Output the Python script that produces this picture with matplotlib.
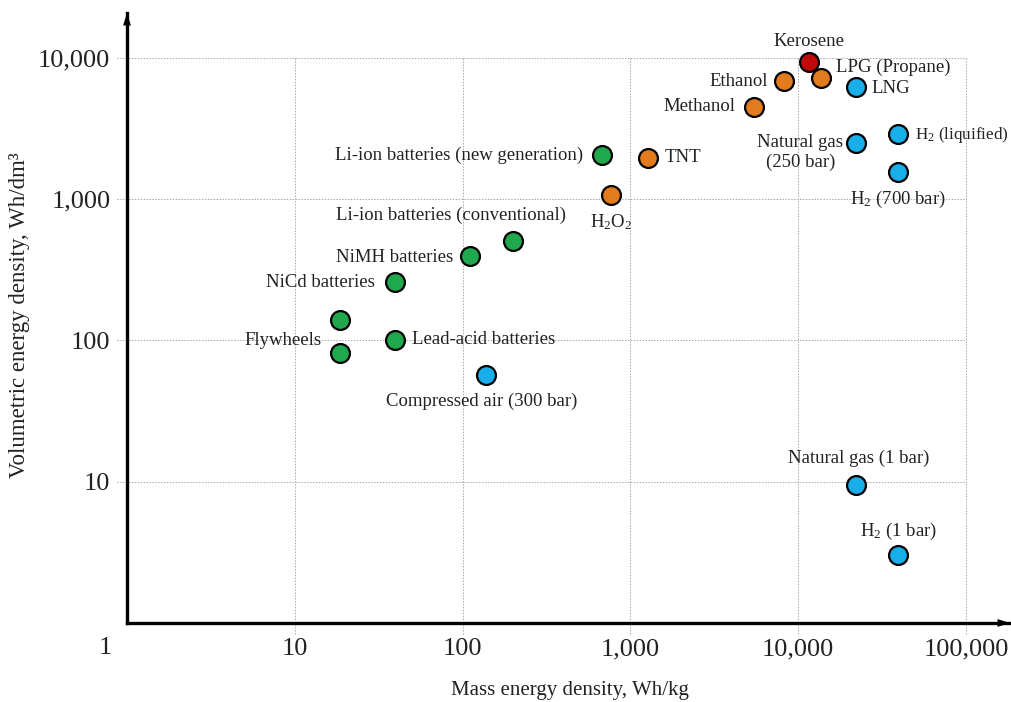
import matplotlib
matplotlib.use("Agg")
import matplotlib.pyplot as plt

plt.rcParams['font.family'] = ['Liberation Serif', 'DejaVu Serif']
plt.rcParams['mathtext.fontset'] = 'custom'
plt.rcParams['mathtext.rm'] = 'Liberation Serif'
plt.rcParams['mathtext.it'] = 'Liberation Serif:italic'

# ---- data ----
names = ["Kerosene", "LPG (Propane)", "Ethanol", "LNG", "Methanol",
         "H$_2$ (liquified)", "Natural gas\n(250 bar)", "H$_2$ (700 bar)",
         "Li-ion batteries (new generation)", "TNT", "H$_2$O$_2$",
         "Li-ion batteries (conventional)", "NiMH batteries", "NiCd batteries",
         "Flywheels", "Flywheels", "Lead-acid batteries",
         "Compressed air (300 bar)", "Natural gas (1 bar)", "H$_2$ (1 bar)"]
mass_density = [11600, 13700, 8200, 22100, 5440,
                39400, 22100, 39400,
                680, 1270, 770,
                200, 111, 39.5,
                18.5, 18.5, 39.5,
                138, 22100, 39400]
vol_density = [9340, 7200, 6850, 6210, 4490,
               2890, 2490, 1555,
               2050, 1955, 1070,
               505, 395, 259,
               139, 81.5, 100.7,
               57, 9.5, 3.03]
category = ["kerosene", "chemical", "chemical", "gas", "chemical",
            "gas", "gas", "gas",
            "battery", "chemical", "chemical",
            "battery", "battery", "battery",
            "battery", "battery", "battery",
            "gas", "gas", "gas"]
x_ticks = [10, 100, 1000, 10000, 100000]
x_tick_labels = ["10", "100", "1,000", "10,000", "100,000"]
y_ticks = [10, 100, 1000, 10000]
y_tick_labels = ["10", "100", "1,000", "10,000"]

colors = {"battery": "#1fa84d", "chemical": "#e27a1e",
          "gas": "#17aee9", "kerosene": "#c00a0a"}

# label layout: (dx, dy) offset in points, ha, va, fontsize ; None = no label
label_layout = [
    ((0, 15), "center", "center", 13.5),
    ((10.8, 7.9), "left", "center", 13.5),
    ((-11.5, 0), "right", "center", 13.5),
    ((10.8, -0.7), "left", "center", 13.5),
    ((-13, 0), "right", "center", 13.5),
    ((12.5, -0.7), "left", "center", 12.3),
    ((-40, -7), "center", "center", 13.5),
    ((0, -20), "center", "center", 13.5),
    ((-13.7, 0), "right", "center", 13.5),
    ((12.2, 0), "left", "center", 13.5),
    ((0, -19.4), "center", "center", 13.5),
    ((-44.6, 18.7), "center", "center", 13.5),
    ((-12.2, -0.7), "right", "center", 13.5),
    ((-14.4, 0), "right", "center", 13.5),
    ((-13, -14.4), "right", "center", 13.5),
    None,
    ((12.2, 0), "left", "center", 13.5),
    ((-2.9, -19.4), "center", "center", 13.5),
    ((2.2, 19.4), "center", "center", 13.5),
    ((0, 16.6), "center", "center", 13.5),
]

fig = plt.figure(figsize=(10.12, 7.02), dpi=100)
ax = fig.add_axes([127 / 1012, (702 - 623) / 702, (1010 - 127) / 1012, (623 - 13) / 702])
ax.set_xscale("log")
ax.set_yscale("log")
ax.set_xlim(1, 10 ** ((1010 - 127.25) / 167.75))
ax.set_ylim(1, 10 ** ((623 - 13) / 141.3))

# grid lines (dotted, extending slightly beyond the axes)
gx0 = 10 ** ((117 - 127.25) / 167.75)
gy0 = 10 ** ((623 - 634) / 141.3)
for yv in y_ticks:
    ax.plot([gx0, x_ticks[-1]], [yv, yv], color="#a8a8a8", lw=0.7,
            ls=(0, (1.5, 1.5)), clip_on=False, zorder=1)
for xv in x_ticks:
    ax.plot([xv, xv], [gy0, y_ticks[-1]], color="#a8a8a8", lw=0.7,
            ls=(0, (1.5, 1.5)), clip_on=False, zorder=1)

for s in ["top", "right"]:
    ax.spines[s].set_visible(False)
for s in ["left", "bottom"]:
    ax.spines[s].set_linewidth(2.4)
    ax.spines[s].set_zorder(5)
arrow_kw = dict(arrowstyle="-|>,head_length=0.9,head_width=0.28", color="k", lw=0,
                shrinkA=0, shrinkB=0)
ax.annotate("", xy=(1.0, 0), xytext=(0.97, 0), xycoords="axes fraction",
            arrowprops=arrow_kw, annotation_clip=False, zorder=6)
ax.annotate("", xy=(0, 1.0), xytext=(0, 0.97), xycoords="axes fraction",
            arrowprops=arrow_kw, annotation_clip=False, zorder=6)

ax.set_xticks(x_ticks)
ax.set_xticklabels(x_tick_labels)
ax.set_yticks(y_ticks)
ax.set_yticklabels(y_tick_labels)
ax.minorticks_off()
ax.tick_params(axis="x", length=0, pad=11, labelsize=19, labelcolor="#222222")
ax.tick_params(axis="y", length=0, pad=12, labelsize=19, labelcolor="#222222")
ax.annotate("1", xy=(1, 1), xycoords="data", xytext=(-15.8, -18), textcoords="offset points",
            ha="center", va="center", fontsize=19, color="#222222", annotation_clip=False)

for xi, yi, cat in zip(mass_density, vol_density, category):
    ax.scatter([xi], [yi], s=185, color=colors[cat], edgecolor="black",
               linewidth=1.6, zorder=4, clip_on=False)

for name, xi, yi, lay in zip(names, mass_density, vol_density, label_layout):
    if lay is None:
        continue
    off, ha, va, fs = lay
    ax.annotate(name, xy=(xi, yi), xytext=off, textcoords="offset points",
                ha=ha, va=va, fontsize=fs, multialignment="center",
                color="#222222", zorder=3, annotation_clip=False)

fig.text(570 / 1012, 1 - 690 / 702, "Mass energy density, Wh/kg", ha="center", va="center",
         fontsize=15, color="#222222")
fig.text(20 / 1012, 1 - 315 / 702, "Volumetric energy density, Wh/dm³", ha="center",
         va="center", rotation=90, fontsize=16.5, color="#222222")

fig.savefig("out.png", dpi=100)
